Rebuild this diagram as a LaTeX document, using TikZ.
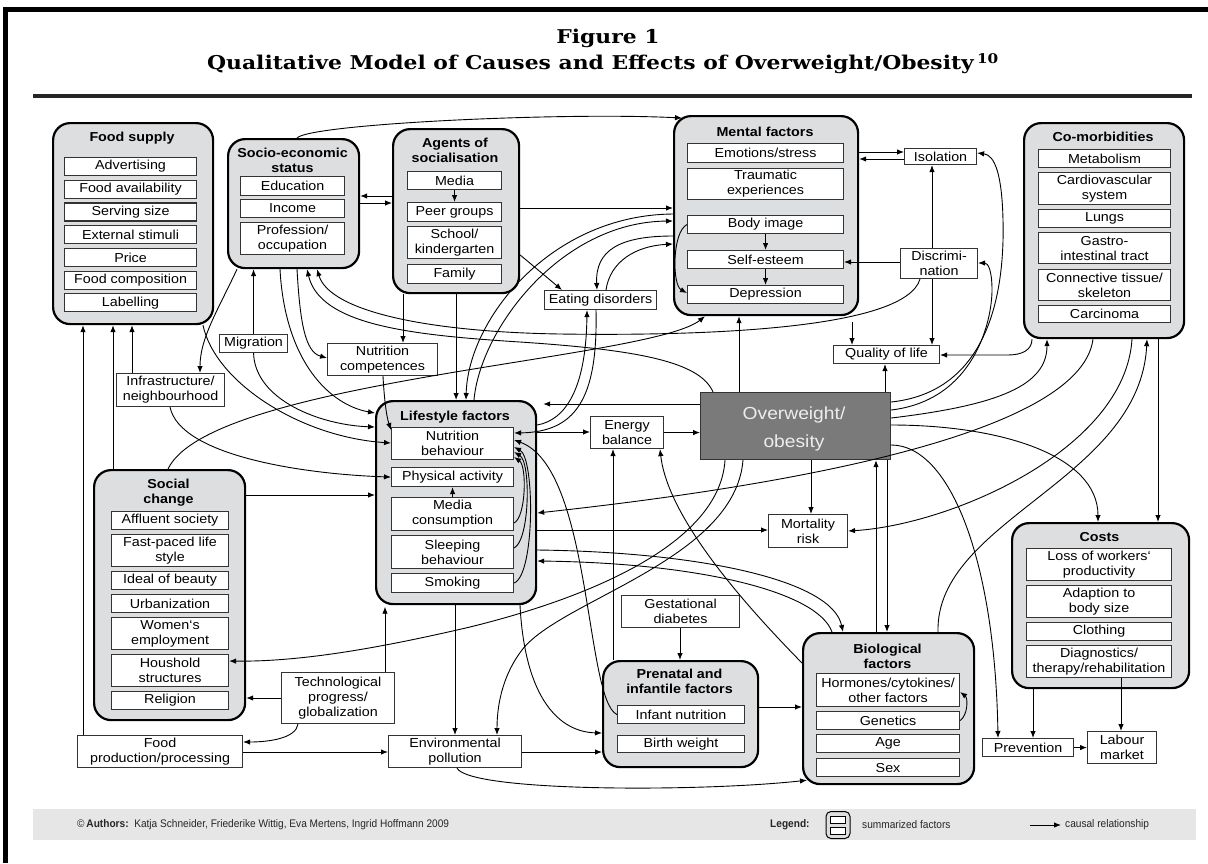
\documentclass[tikz,border=0pt]{standalone}
\usepackage{fontspec}
\setmainfont{Liberation Sans}[FakeStretch=1.1]
\newfontfamily\ttlfont{DejaVu Serif}[FakeStretch=1.15]
\newfontfamily\footfont{Liberation Sans}[FakeStretch=0.92]
\usetikzlibrary{arrows.meta,calc}

\definecolor{boxgray}{RGB}{221,222,224}
\definecolor{footgray}{RGB}{230,230,230}
\definecolor{owgray}{RGB}{122,122,122}

\newcommand{\bx}[6]{\node[ib, minimum width=#4pt, minimum height=#5pt] (#1) at (#2,#3) {#6};}

\begin{document}
\begin{tikzpicture}[x=1pt,y=-1pt,
  cont/.style={draw, line width=2.2pt, rounded corners=17pt, fill=boxgray, anchor=north west, inner sep=0pt},
  ib/.style={draw=black!80, line width=1.1pt, fill=white, anchor=north west, inner sep=0pt, align=center, font=\fontsize{13}{15}\selectfont},
  ttl/.style={font=\bfseries\fontsize{13}{15}\selectfont, align=center, inner sep=0pt},
  arr/.style={-{Latex[length=7pt,width=5.5pt]}, line width=0.9pt},
  foot/.style={anchor=west, font=\footfont\fontsize{11}{13}\selectfont, text=black!85, inner sep=0pt},
]
\useasboundingbox (0,0) rectangle (1208,863);

% frame and heading
\fill[black] (3,7) rectangle (1208,12);
\fill[black] (3,7) rectangle (8,863);
\fill[black!85] (33,94) rectangle (1192,98);
\node[font=\ttlfont\bfseries\fontsize{19}{22}\selectfont] (fig) at (608,38) {Figure 1};
\node[font=\ttlfont\bfseries\fontsize{19}{22}\selectfont] (sub) at (603,64) {Qualitative Model of Causes and Effects of Overweight/Obesity\,\textsuperscript{10}};

% ---------- summarized factors ----------
\node[cont, minimum width=160pt, minimum height=201pt] (fs) at (52,122) {};
\node[ttl] (fsT) at (132,138) {Food supply};
\bx{fs1}{64}{157}{132}{18}{Advertising}
\bx{fs2}{64}{179.7}{132}{18}{Food availability}
\bx{fs3}{64}{202.4}{132}{18}{Serving size}
\bx{fs4}{64}{225.1}{132}{18}{External stimuli}
\bx{fs5}{64}{247.8}{132}{18}{Price}
\bx{fs6}{64}{270.5}{132}{18}{Food composition}
\bx{fs7}{64}{293.2}{132}{18}{Labelling}

\node[cont, minimum width=131pt, minimum height=129pt] (ses) at (227,138) {};
\node[ttl] (sesT) at (292.5,160.5) {Socio-economic\\status};
\bx{ses1}{240}{176}{104}{19}{Education}
\bx{ses2}{240}{199}{104}{18}{Income}
\bx{ses3}{240}{222}{104}{32}{Profession/\\occupation}

\node[cont, minimum width=126pt, minimum height=164pt] (ag) at (392,128) {};
\node[ttl] (agT) at (455,150.5) {Agents of\\socialisation};
\bx{ag1}{407}{171}{94}{18}{Media}
\bx{ag2}{407}{202}{94}{19}{Peer groups}
\bx{ag3}{407}{226}{94}{32}{School/\\kindergarten}
\bx{ag4}{407}{264}{94}{19}{Family}

\node[cont, minimum width=184pt, minimum height=199pt] (mf) at (673,115) {};
\node[ttl] (mfT) at (765,132) {Mental factors};
\bx{mf1}{687}{143}{156}{19}{Emotions/stress}
\bx{mf2}{687}{168}{156}{31}{Traumatic\\experiences}
\bx{mf3}{687}{215}{156}{18}{Body image}
\bx{mf4}{687}{250}{156}{18}{Self-esteem}
\bx{mf5}{687}{285}{156}{18}{Depression}

\node[cont, minimum width=160pt, minimum height=215pt] (cm) at (1023,122) {};
\node[ttl] (cmT) at (1103,137) {Co-morbidities};
\bx{cm1}{1038}{149}{132}{18}{Metabolism}
\bx{cm2}{1038}{172}{132}{32}{Cardiovascular\\system}
\bx{cm3}{1038}{209}{132}{18}{Lungs}
\bx{cm4}{1038}{232}{132}{31}{Gastro-\\intestinal tract}
\bx{cm5}{1038}{269}{132}{31}{Connective tissue/\\skeleton}
\bx{cm6}{1038}{305}{132}{17}{Carcinoma}

\node[cont, minimum width=160pt, minimum height=203pt] (ls) at (375,400) {};
\node[ttl] (lsT) at (455,417) {Lifestyle factors};
\bx{ls1}{391}{427}{122}{32}{Nutrition\\behaviour}
\bx{ls2}{391}{467}{122}{19}{Physical activity}
\bx{ls3}{391}{497}{122}{33}{Media\\consumption}
\bx{ls4}{391}{535}{122}{33}{Sleeping\\behaviour}
\bx{ls5}{391}{573}{122}{19}{Smoking}

\node[cont, minimum width=151pt, minimum height=250pt] (sc) at (93,469) {};
\node[ttl] (scT) at (168.5,493) {Social\\change};
\bx{sc1}{111}{511}{117}{18}{Affluent society}
\bx{sc2}{111}{534}{117}{32}{Fast-paced life\\style}
\bx{sc3}{111}{571}{117}{18}{Ideal of beauty}
\bx{sc4}{111}{594}{117}{18}{Urbanization}
\bx{sc5}{111}{617}{117}{32}{Women‘s\\employment}
\bx{sc6}{111}{654}{117}{32}{Houshold\\structures}
\bx{sc7}{111}{691}{117}{18}{Religion}

\node[cont, minimum width=155pt, minimum height=106pt] (pn) at (602,660) {};
\node[ttl] (pnT) at (679.5,681.5) {Prenatal and\\infantile factors};
\bx{pn1}{617}{705}{127}{18}{Infant nutrition}
\bx{pn2}{617}{735}{127}{17}{Birth weight}

\node[cont, minimum width=171pt, minimum height=151pt] (bf) at (802,632) {};
\node[ttl] (bfT) at (887.5,656.5) {Biological\\factors};
\bx{bf1}{816}{673}{143}{33}{Hormones/cytokines/\\other factors}
\bx{bf2}{816}{711}{143}{18}{Genetics}
\bx{bf3}{816}{734}{143}{18}{Age}
\bx{bf4}{816}{758}{143}{18}{Sex}

\node[cont, minimum width=177pt, minimum height=165pt] (co) at (1011,522) {};
\node[ttl] (coT) at (1099.5,537) {Costs};
\bx{co1}{1026}{548}{145}{32}{Loss of workers‘\\productivity}
\bx{co2}{1026}{585}{145}{32}{Adaption to\\body size}
\bx{co3}{1026}{622}{145}{18}{Clothing}
\bx{co4}{1026}{645}{145}{32}{Diagnostics/\\therapy/rehabilitation}

% ---------- single factors ----------
\bx{ed}{544}{290}{112}{19}{Eating disorders}
\bx{iso}{904}{148}{72}{16}{Isolation}
\bx{disc}{900}{248}{77}{30}{Discrimi-\\nation}
\bx{qol}{833}{345}{106}{18}{Quality of life}
\bx{eb}{590}{416}{73}{32}{Energy\\balance}
\bx{mr}{768}{514}{79}{33}{Mortality\\risk}
\bx{gd}{621}{595}{118}{32}{Gestational\\diabetes}
\bx{env}{388}{735}{133}{32}{Environmental\\pollution}
\bx{fp}{77}{735}{165}{32}{Food\\production/processing}
\bx{tp}{281}{672}{113}{51}{Technological\\progress/\\globalization}
\bx{inf}{116}{373}{108}{33}{Infrastructure/\\neighbourhood}
\bx{mig}{219}{334}{68}{18}{Migration}
\bx{nc}{327}{343}{110}{32}{Nutrition\\competences}
\bx{prev}{982}{738}{91}{18}{Prevention}
\bx{lm}{1087}{731}{69}{32}{Labour\\market}

\node[draw=black!80, line width=1.2pt, fill=owgray, anchor=north west, minimum width=190pt, minimum height=67pt, inner sep=0pt] (ow) at (700,392) {};
\node[text=white!93!black, align=center, font=\fontsize{17.5}{28}\selectfont] (owT) at (794,429) {Overweight/\\obesity};

% ---------- causal relationships ----------
% into food supply
\draw[arr] (fp.north -| 83,0) -- (fs.south -| 83,0);
\draw[arr] (sc.north -| 113,0) -- (fs.south -| 113,0);
\draw[arr] (inf.north -| 132,0) -- (fs.south -| 132,0);

% socio-economic status
\draw[arr] (ses.south -| 237,0) .. controls (218,310) and (200,338) .. (inf.north -| 200,0);
\draw[arr] (mig.north) -- (ses.south -| mig.north);
\draw[arr] (ses.south -| 297,0) .. controls (300,322) and (305,352) .. (nc.west |- 0,358);
\draw[arr] (ses.south -| 280,0) .. controls (285,362) and (330,405) .. (ls.west |- 0,413);
\draw[arr] (mig.south) .. controls (255,400) and (320,425) .. (ls.west |- 0,427);
\draw[arr] (fs.south -| 203,0) .. controls (215,382) and (300,437) .. (ls1.west |- 0,443);
\draw[arr] (inf.south -| 170,0) .. controls (180,455) and (300,474) .. (ls2.west);
\draw[arr] (sc.east |- 0,495) -- (ls.west |- 0,495);
\draw[arr] (sc.north -| 168,0) .. controls (210,380) and (650,360) .. (mf.south -| 705,0);
\draw[arr] (ses.north -| 297,0) .. controls (310,124) and (560,112) .. ([shift={(9,3)}]mf.north west);
\draw[arr] (ag.west |- 0,196) -- (ses.east |- 0,196);
\draw[arr] (ses.east |- 0,203) -- (ag.west |- 0,203);

% agents of socialisation
\draw[arr] (ag1.south) -- (ag2.north);
\draw[arr] (ag.east |- 0,208) -- (mf.west |- 0,208);
\draw[arr] (ag.east |- 0,255) -- (ed.north -| 562,0);
\draw[arr] (ag.south) -- (ls.north);
\draw[arr] (ag.south -| 403,0) -- (nc.north -| 403,0);
\draw[arr] (nc.south -| 383,0) .. controls (384,395) and (386,415) .. (ls1.west |- 0,430);

% mental factors and eating disorders
\draw[arr] (mf.west |- 0,236) .. controls (620,236) and (595,250) .. (ed.north -| 597,0);
\draw[arr] (ed.north -| 606,0) .. controls (610,262) and (635,246) .. (mf.west |- 0,244);
\draw[arr] (ls.north -| 474,0) .. controls (480,330) and (560,222) .. (mf.west |- 0,221);
\draw[arr] (mf.west |- 0,214) .. controls (550,215) and (468,320) .. (ls.north -| 466,0);
\draw[arr] (ed.south -| 596,0) .. controls (598,400) and (575,432) .. (ls1.east |- 0,433);
\draw[arr] (ls.east |- 0,425) .. controls (565,420) and (586,390) .. (ed.south -| 587,0);
\draw[arr] (mf3.west) .. controls (672,232) and (672,285) .. (mf5.west |- 0,293);
\draw[arr] (mf3.south) -- (mf4.north);
\draw[arr] (mf4.south) -- (mf5.north);

% within lifestyle factors
\draw[arr] (ls3.north) -- (ls2.south);
\draw[arr] (ls3.east |- 0,523) .. controls (526,517) and (527,466) .. (ls1.east |- 0,457);
\draw[arr] (ls4.east |- 0,548) .. controls (530,540) and (531,462) .. (ls1.east |- 0,452);
\draw[arr] (ls5.east |- 0,583) .. controls (535,575) and (535,458) .. (ls1.east |- 0,447);
\draw[arr] (pn1.west) .. controls (585,700) and (592,468) .. (ls1.east |- 0,440);

% overweight / obesity
\draw[arr, shorten >=6pt] (ow.west |- 0,404) -- (ls.east |- 0,404);
\draw[arr] (ls.east |- 0,432) -- (eb.west |- 0,432);
\draw[arr] (eb.east) -- (ow.west |- eb.east);
\draw[arr] (ow.north -| 739,0) -- (mf.south -| 739,0);
\draw[arr] (ow.north -| 885,0) -- (qol.south -| 885,0);
\draw[arr, shorten <=6pt] (mf.south -| 852,0) -- (qol.north -| 852,0);
\draw[arr] (disc.south -| 932,0) -- (qol.north -| 932,0);
\draw[arr] (disc.north -| 932,0) -- (iso.south -| 932,0);
\draw[arr] (disc.west |- 0,262) -- (mf4.east |- 0,262);
\draw[arr] (mf.east |- 0,152) -- (iso.west |- 0,152);
\draw[arr] (iso.west |- 0,159) -- (mf.east |- 0,159);
\draw[arr] (cm.south -| 1032,0) .. controls (1032,350) and (1022,355) .. (1008,355) -- (qol.east |- 0,355);
\draw[arr] (ow.east |- 0,402) .. controls (985,392) and (1005,300) .. (1003,220) .. controls (1002,175) and (995,155) .. (iso.east |- 0,153);
\draw[arr] (ow.east |- 0,410) .. controls (975,400) and (992,320) .. (992,290) .. controls (992,270) and (988,263) .. (disc.east |- 0,263);
\draw[arr] (ow.east |- 0,418) .. controls (1000,405) and (1047,385) .. (cm.south -| 1047,0);
\draw[arr] (ow.east |- 0,425) .. controls (1000,425) and (1098,455) .. (co.north -| 1098,0);
\draw[arr] (ow.east |- 0,445) .. controls (950,445) and (995,560) .. (prev.north -| 998,0);
\draw[arr] (ow.south -| 811,0) -- (mr.north -| 811,0);
\draw[arr] (bf.north -| 876,0) -- (ow.south -| 876,0);
\draw[arr] (ow.south -| 887,0) -- (bf.north -| 887,0);
\draw[arr] (ow.north -| 713,0) .. controls (700,362) and (640,350) .. (520,342) .. controls (410,335) and (320,325) .. (ses.south -| 307,0);
\draw[arr] (disc.south -| 920,0) .. controls (905,330) and (700,336) .. (560,334) .. controls (430,332) and (330,312) .. (ses.south -| 317,0);
\draw[arr] (ow.south -| 725,0) .. controls (720,540) and (600,595) .. (470,627) .. controls (380,648) and (300,662) .. (sc6.east |- 0,661);
\draw[arr] (ow.south -| 743,0) .. controls (735,560) and (560,600) .. (522,650) .. controls (505,672) and (497,700) .. (env.north -| 497,0);

% co-morbidities, costs
\draw[arr] (cm.south -| 1093,0) .. controls (1080,440) and (750,490) .. (ls.east |- 0,513);
\draw[arr] (cm.south -| 1132,0) .. controls (1125,450) and (950,525) .. (mr.east |- 0,531);
\draw[arr] (bf.north -| 938,0) .. controls (935,520) and (1140,480) .. (cm.south -| 1147,0);
\draw[arr] (cm.south -| 1158,0) -- (co.north -| 1158,0);
\draw[arr] (co.south -| 1033,0) -- (prev.north -| 1033,0);
\draw[arr] (co4.south -| 1121,0) -- (lm.north -| 1121,0);
\draw[arr] (prev.east) -- (lm.west);

% lifestyle, prenatal, biological, environment
\draw[arr] (ls.east |- 0,530) -- (mr.west |- 0,530);
\draw[arr] (ls.east |- 0,550) .. controls (700,552) and (832,580) .. (bf.north -| 843,0);
\draw[arr] (bf.north -| 832,0) .. controls (818,592) and (700,563) .. (ls.east |- 0,561);
\draw[arr] (pn.north -| 613,0) -- (eb.south -| 613,0);
\draw[arr] (bf.west |- 0,663) .. controls (750,610) and (668,520) .. (eb.south -| 660,0);
\draw[arr] (gd.south -| 680,0) -- (pn.north -| 680,0);
\draw[arr] (pn.east |- 0,707) -- (bf.west |- 0,707);
\draw[arr] (env.east |- 0,752) -- (pn.west |- 0,752);
\draw[arr] (env.south -| 457,0) .. controls (470,792) and (700,792) .. ([shift={(5,-5)}]bf.south west);
\draw[arr] (fp.east |- 0,752) -- (env.west |- 0,752);
\draw[arr] (tp.south -| 298,0) .. controls (296,738) and (270,742) .. (fp.east |- 0,742);
\draw[arr] (tp.west |- 0,698) -- (sc.east |- 0,698);
\draw[arr, shorten >=1.5pt] (tp.north -| 385,0) -- (ls.south -| 385,0);
\draw[arr] (ls.south -| 455,0) -- (env.north -| 455,0);
\draw[arr] (ls.south -| 520,0) .. controls (525,700) and (560,732) .. (pn.west |- 0,733);
\draw[arr] (bf2.east) .. controls (968,715) and (968,698) .. (bf1.east |- 0,692);

% ---------- footer ----------
\fill[footgray] (33,809) rectangle (1196,840);
\node[foot] (auth) at (77,825) {©\,\textbf{Authors:}\ \ Katja Schneider, Friederike Wittig, Eva Mertens, Ingrid Hoffmann 2009};
\node[foot, font=\footfont\bfseries\fontsize{11}{13}\selectfont] (leg) at (770,825) {Legend:};
\node[draw, line width=1pt, rounded corners=5pt, fill=boxgray, minimum width=24pt, minimum height=27pt, inner sep=0pt] (legbox) at (838,825) {};
\node[draw, line width=0.7pt, fill=white, minimum width=15pt, minimum height=7pt, inner sep=0pt] (legb1) at (838,819.5) {};
\node[draw, line width=0.7pt, fill=white, minimum width=15pt, minimum height=7pt, inner sep=0pt] (legb2) at (838,830.5) {};
\node[foot] (legs) at (862,825) {summarized factors};
\coordinate (la1) at (1030,825);
\coordinate (la2) at (1061,825);
\draw[arr] (la1) -- (la2);
\node[foot] (legc) at (1065,825) {causal relationship};
\end{tikzpicture}
\end{document}
